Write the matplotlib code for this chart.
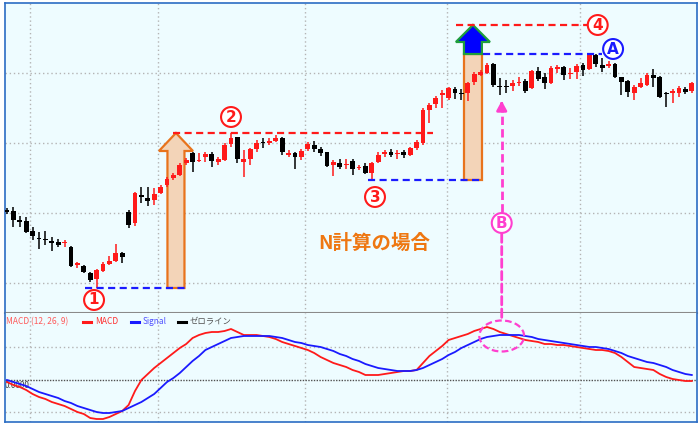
import matplotlib
matplotlib.use("Agg")
import matplotlib.pyplot as plt
from matplotlib.patches import Polygon, Ellipse, ConnectionPatch
import numpy as np

plt.rcParams['font.family'] = ['Noto Sans CJK JP', 'DejaVu Sans']

# ---- price bars (price, arbitrary units) ----
opens = [103, 102, 93, 92, 82, 75, 74, 72, 71, 70, 66, 48, 47, 40, 34, 42, 49, 52, 60, 101,
         90, 118, 115, 113, 120, 128, 135, 138, 150, 160, 152, 156, 159, 151, 153, 169, 176, 151, 154, 164,
         171, 170, 172, 175, 158, 160, 156, 164, 168, 164, 161, 148, 150, 148, 152, 145, 147, 140, 151, 159,
         161, 159, 161, 158, 165, 170, 203, 209, 218, 215, 224, 220, 220, 231, 238, 240, 249, 227, 227, 227,
         230, 232, 225, 242, 236, 230, 244, 246, 239, 241, 248, 244, 258, 248, 247, 249, 236, 232, 220, 226,
         228, 238, 236, 220, 220, 220, 224, 222]
highs = [105, 106, 97, 96, 86, 81, 82, 76, 74, 73, 67, 51, 48, 41, 44, 51, 57, 69, 61, 103,
         121, 126, 126, 125, 128, 136, 140, 150, 155, 161, 160, 161, 161, 156, 170, 180, 176, 163, 165, 173,
         175, 175, 178, 176, 163, 161, 164, 171, 172, 166, 161, 153, 154, 154, 154, 148, 150, 151, 161, 163,
         164, 163, 163, 166, 173, 205, 210, 217, 223, 226, 226, 224, 231, 241, 243, 250, 250, 235, 233, 233,
         236, 234, 243, 246, 240, 247, 248, 247, 245, 249, 250, 259, 259, 255, 252, 250, 236, 233, 228, 235,
         240, 244, 237, 221, 224, 227, 226, 231]
lows = [99, 86, 86, 80, 73, 64, 68, 62, 66, 66, 46, 45, 40, 31, 25, 41, 48, 51, 50, 85,
        87, 110, 107, 108, 119, 126, 133, 137, 148, 141, 151, 151, 146, 148, 152, 166, 150, 136, 148, 161,
        165, 168, 171, 158, 156, 144, 153, 162, 161, 157, 146, 137, 144, 144, 138, 143, 139, 133, 150, 156,
        156, 154, 155, 157, 163, 168, 190, 205, 205, 213, 214, 213, 212, 228, 237, 239, 226, 218, 220, 222,
        227, 220, 224, 232, 224, 229, 240, 233, 234, 234, 237, 243, 246, 241, 245, 235, 218, 216, 213, 225,
        227, 226, 215, 206, 210, 216, 219, 220]
closes = [101, 93, 91, 81, 77, 74, 73, 70, 68, 71, 47, 50, 41, 33, 43, 49, 52, 60, 56, 88,
          120, 116, 112, 119, 126, 134, 138, 148, 153, 151, 153, 159, 152, 154, 168, 175, 154, 154, 164, 170,
          170, 172, 175, 161, 160, 156, 162, 169, 164, 160, 147, 151, 146, 149, 144, 146, 140, 150, 158, 161,
          158, 160, 158, 165, 171, 203, 208, 215, 220, 225, 220, 219, 230, 239, 241, 248, 228, 226, 226, 230,
          231, 222, 242, 234, 230, 245, 246, 238, 240, 247, 243, 258, 249, 245, 249, 236, 231, 221, 226, 230,
          238, 235, 216, 219, 222, 225, 221, 230]

# ---- MACD(12, 26, 9) ----
macd = [-2, -5, -7, -10, -14, -17, -19, -22, -24, -26, -29, -32, -34, -38, -39, -39, -37, -34, -31, -25,
        -11, 0, 6, 12, 17, 22, 27, 32, 36, 42, 45, 47, 48, 48, 49, 51, 48, 45, 45, 45,
        44, 43, 41, 38, 36, 34, 32, 30, 27, 23, 20, 17, 15, 13, 10, 8, 5, 5, 5, 6,
        7, 8, 9, 9, 10, 17, 24, 29, 34, 40, 42, 44, 46, 49, 51, 53, 51, 48, 46, 44,
        42, 40, 39, 38, 36, 36, 35, 35, 34, 33, 32, 31, 30, 30, 29, 27, 23, 18, 13, 12,
        11, 10, 6, 3, 1, 0, -1, -1]
signal = [0, -2, -4, -6, -9, -12, -14, -16, -18, -21, -23, -26, -28, -30, -32, -33, -33, -32, -31, -28,
          -25, -22, -18, -14, -8, -2, 2, 7, 13, 19, 24, 30, 33, 36, 39, 42, 43, 44, 44, 44,
          44, 44, 43, 42, 40, 38, 37, 35, 34, 33, 31, 29, 26, 24, 21, 19, 16, 14, 12, 11,
          10, 9, 9, 9, 10, 12, 15, 18, 21, 25, 28, 32, 35, 38, 41, 43, 44, 45, 45, 45,
          45, 44, 43, 41, 40, 39, 38, 37, 36, 35, 34, 33, 33, 32, 31, 29, 27, 24, 22, 20,
          18, 17, 15, 13, 10, 8, 6, 5]

price_grid = [30, 100, 170, 240]
macd_grid = [-32, 33]
time_grid = [4.6, 24.6, 47.6, 69.75, 90.5]

bg = '#eefcff'
border = '#2b6cc4'
up_col = '#ff1a1a'
dn_col = '#000000'
pink = '#ff3fcf'
orange = '#e8731c'
peach = '#f3d4b8'

bars = np.arange(1, len(opens) + 1)
o = np.array(opens); h = np.array(highs); l = np.array(lows); c = np.array(closes)

fig = plt.figure(figsize=(7, 4.28), dpi=100)
W, H = 700, 428
axp = fig.add_axes([5 / W, 1 - 313 / H, 692 / W, 310 / H])
axm = fig.add_axes([5 / W, 1 - 422 / H, 692 / W, 109 / H])

for ax in (axp, axm):
    ax.set_facecolor(bg)
    ax.set_xlim(0.6875, 108.8125)
    ax.set_xticks(time_grid)
    ax.tick_params(length=0, labelbottom=False, labelleft=False)
    ax.grid(True, color='#b4b4b4', linestyle=(0, (1, 2)), lw=1)
    ax.set_axisbelow(True)
    for s in ax.spines.values():
        s.set_color(border)
        s.set_linewidth(1.2)
axp.spines['bottom'].set_color('#8a8a8a')
axp.spines['bottom'].set_linewidth(1.5)
axm.spines['top'].set_visible(False)

axp.set_ylim(0, 310)
axp.set_yticks(price_grid)
axm.set_ylim(-42, 67)
axm.set_yticks(macd_grid)

# candles
cols = np.where(c >= o, up_col, dn_col)
axp.vlines(bars, l, h, colors=cols, lw=1.1, zorder=3)
body = np.maximum(np.abs(c - o), 1.5)
axp.bar(bars, body, bottom=np.minimum(o, c), width=0.74, color=cols, zorder=3)

# key levels of the N calculation
i1, i2, i3, iA = 14, 35, 57, 91
low1, high2, low3, highA = l[i1], h[i2], l[i3], h[iA]
target = low3 + (high2 - low1)


def up_arrow(ax, xc, y0, y1, shw, hhw, hl, fc, ec, head=True):
    if head:
        pts = [(xc - shw, y0), (xc + shw, y0), (xc + shw, y1 - hl), (xc + hhw, y1 - hl),
               (xc, y1), (xc - hhw, y1 - hl), (xc - shw, y1 - hl)]
    else:
        pts = [(xc - shw, y0), (xc + shw, y0), (xc + shw, y1), (xc - shw, y1)]
    ax.add_patch(Polygon(pts, closed=True, fc=fc, ec=ec, lw=1.6, zorder=2))


up_arrow(axp, 27.4, low1, high2, 1.33, 2.66, 18, peach, orange)
up_arrow(axp, 73.8, low3, highA, 1.4, 2.66, 0, peach, orange, head=False)
up_arrow(axp, 73.8, highA, target, 1.4, 2.66, 17, '#0000ff', '#1e9e3c')

dash = (0, (3.2, 2))
axp.hlines(low1, 13.2, 29.1, colors='#1a1aff', linestyles=dash, lw=1.6, zorder=4)
axp.hlines(high2, 26.9, 67.6, colors='#ff1a1a', linestyles=dash, lw=1.6, zorder=4)
axp.hlines(low3, 57.4, 75.4, colors='#1a1aff', linestyles=dash, lw=1.6, zorder=4)
axp.hlines(highA, 75.4, 94.0, colors='#1a1aff', linestyles=dash, lw=1.6, zorder=4)
axp.hlines(target, 71.2, 91.8, colors='#ff1a1a', linestyles=dash, lw=1.6, zorder=4)


def circ(ax, x, y, s, col):
    ax.text(x, y, s, color=col, fontsize=11, fontweight='bold', family='DejaVu Sans',
            ha='center', va='center', zorder=6,
            bbox=dict(boxstyle='circle,pad=0.16', fc='white', ec=col, lw=1.5))


circ(axp, 14.6, low1 - 12, '1', '#ff1a1a')
circ(axp, 36, high2 + 16, '2', '#ff1a1a')
circ(axp, 58.5, low3 - 17, '3', '#ff1a1a')
circ(axp, 93.3, target, '4', '#ff1a1a')
circ(axp, 95.7, highA + 5, 'A', '#1a1aff')

axp.text(49.6, 70, 'N計算の場合', color='#ee7711', fontsize=14, fontweight='bold',
         ha='left', va='center', zorder=5)

# pink pointer from MACD cross up to price
bx, by = 78.3, 90
circ(axp, bx, by, 'B', pink)
axp.plot([bx, bx], [by + 11, l[77] - 12], color=pink, lw=2, ls=(0, (3, 1.5)), zorder=4)
axp.annotate('', xy=(bx, l[77] - 3), xytext=(bx, l[77] - 13),
             arrowprops=dict(arrowstyle='-|>,head_length=0.55,head_width=0.3',
                             color=pink, lw=2), zorder=4)
axm.add_patch(Ellipse((bx, 44), 7.0, 31, fill=False, ec=pink, lw=1.6,
                      ls=(0, (3, 1.5)), zorder=5))
con = ConnectionPatch(xyA=(bx, by - 11), coordsA=axp.transData,
                      xyB=(bx, 60), coordsB=axm.transData,
                      color=pink, lw=2, ls=(0, (3, 1.5)))
fig.add_artist(con)

# MACD panel
axm.axhline(0, color='#505050', ls=(0, (1, 1)), lw=1, zorder=2)
axm.plot(bars, macd, color='#ff1a1a', lw=1.3, zorder=3)
axm.plot(bars, signal, color='#1a1aff', lw=1.3, zorder=3)


def mpx(x, y):
    return (x - 5) / 692, (422 - y) / 109


t = axm.transAxes
axm.text(*mpx(6, 322), 'MACD (12, 26, 9)', transform=t, color='#ff5a5a', fontsize=6,
         va='center', ha='left')
for x0, col, lab, tcol in [(83, '#ff1a1a', 'MACD', '#ff3030'),
                           (131, '#1a1aff', 'Signal', '#5050ff'),
                           (178, '#000000', 'ゼロライン', '#505050')]:
    xa, ya = mpx(x0, 322)
    xb, _ = mpx(x0 + 8, 322)
    axm.plot([xa, xb], [ya, ya], transform=t, color=col, lw=2.2)
    axm.text(*mpx(x0 + 12, 322), lab, transform=t, color=tcol, fontsize=6,
             va='center', ha='left')
axm.text(*mpx(5, 386), '0.0000', transform=t, color='#404040', fontsize=6,
         va='center', ha='left', zorder=1)

fig.savefig('out.png', dpi=100, facecolor='white')
